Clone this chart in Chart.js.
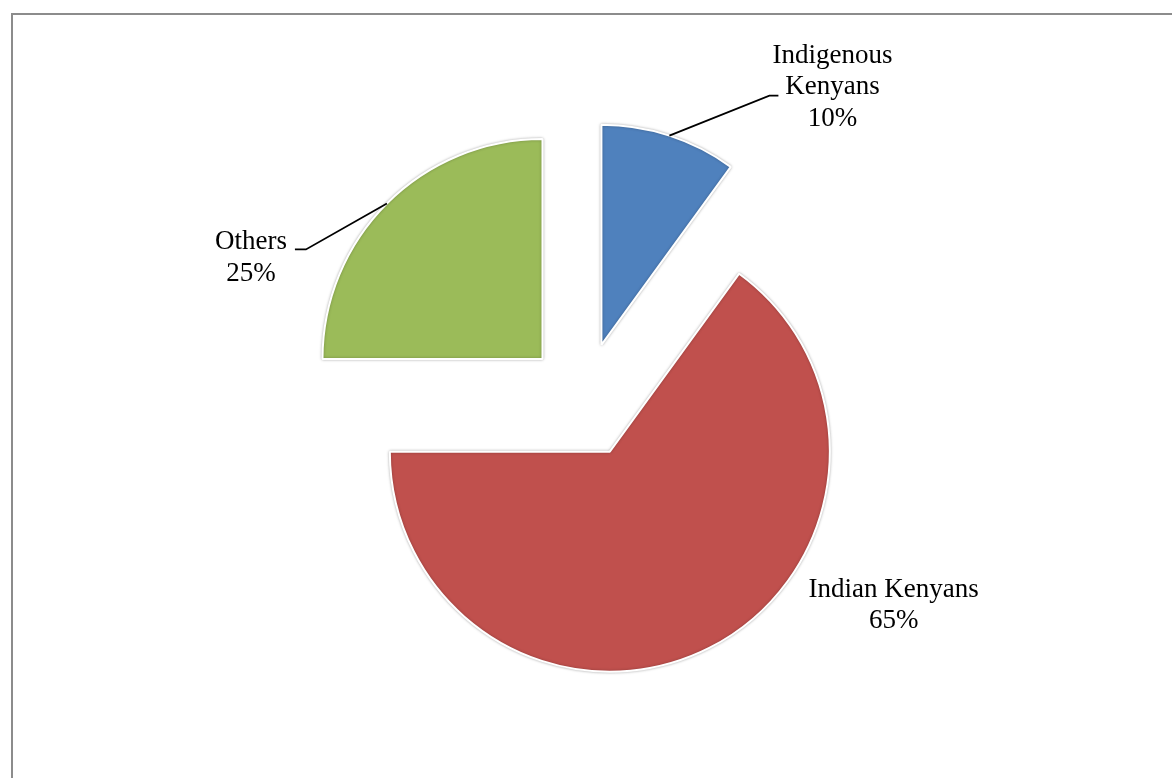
<!DOCTYPE html>
<html>
<head>
<meta charset="utf-8">
<script src="https://cdn.jsdelivr.net/npm/chart.js@4.4.0/dist/chart.umd.min.js"></script>
<style>
  html, body { margin: 0; padding: 0; background: #fff; }
  canvas { display: block; }
</style>
</head>
<body>
<canvas id="c" width="1172" height="778"></canvas>
<script>
// ---- data ----
const categories = ['Indigenous Kenyans', 'Indian Kenyans', 'Others'];
const categoryLines = [['Indigenous', 'Kenyans'], ['Indian Kenyans'], ['Others']];
const values = [10, 65, 25];
const colors = ['#4F81BD', '#C0504D', '#9BBB59'];

// ---- layout / style ----
const EXPLODE = 58;      // px displacement of every slice
const RADIUS = 220;
const FONT = '27px "Liberation Serif", "Times New Roman", serif';
const LINE_H = 31.5;
// label placement relative to each slice's outer mid-point
const labelLayout = [
  { leader: [[100, -40], [109, -40]], text: [163, -73] },
  { leader: null, text: [184, -51] },
  { leader: [[-81, 46], [-92, 46]], text: [-136, 46] }
];

const total = values.reduce((a, b) => a + b, 0);

const framePlugin = {
  id: 'frame',
  beforeDraw(chart) {
    const c = chart.ctx;
    c.save();
    c.strokeStyle = '#8c8c8c';
    c.lineWidth = 2;
    c.beginPath();
    c.moveTo(12, 800);
    c.lineTo(12, 14);
    c.lineTo(1200, 14);
    c.stroke();
    c.restore();
  }
};

// draws each library arc element shifted outward along its mid-angle (exploded pie)
const explodePlugin = {
  id: 'explode',
  beforeDatasetDraw(chart, args) {
    const c = chart.ctx;
    const meta = args.meta;
    c.save();
    c.shadowColor = 'rgba(0,0,0,0.28)';
    c.shadowBlur = 3;
    meta.data.forEach(arc => {
      const mid = (arc.startAngle + arc.endAngle) / 2;
      c.save();
      c.translate(Math.cos(mid) * EXPLODE, Math.sin(mid) * EXPLODE);
      arc.draw(c, chart.chartArea);
      c.restore();
    });
    c.restore();
    return false;
  }
};

const labelPlugin = {
  id: 'pieLabels',
  afterDatasetsDraw(chart) {
    const c = chart.ctx;
    const meta = chart.getDatasetMeta(0);
    c.save();
    meta.data.forEach((arc, i) => {
      const mid = (arc.startAngle + arc.endAngle) / 2;
      const r = arc.outerRadius + EXPLODE;
      const px = arc.x + Math.cos(mid) * r;
      const py = arc.y + Math.sin(mid) * r;
      const lay = labelLayout[i];
      if (lay.leader) {
        c.strokeStyle = '#000';
        c.lineWidth = 1.8;
        c.beginPath();
        c.moveTo(px, py);
        lay.leader.forEach(p => c.lineTo(px + p[0], py + p[1]));
        c.stroke();
      }
      const pct = Math.round(values[i] / total * 100) + '%';
      const lines = categoryLines[i].concat([pct]);
      c.fillStyle = '#000';
      c.font = FONT;
      c.textAlign = 'center';
      c.textBaseline = 'alphabetic';
      lines.forEach((t, k) => {
        c.fillText(t, px + lay.text[0], py + lay.text[1] + k * LINE_H);
      });
    });
    c.restore();
  }
};

new Chart(document.getElementById('c'), {
  type: 'pie',
  data: {
    labels: categories,
    datasets: [{
      data: values,
      backgroundColor: colors,
      borderColor: '#ffffff',
      borderWidth: 2,
      offset: 0,
      hoverOffset: 0
    }]
  },
  options: {
    responsive: false,
    animation: false,
    devicePixelRatio: 1,
    radius: RADIUS,
    layout: { padding: { left: 0, right: 5, top: 22, bottom: 0 } },
    plugins: {
      legend: { display: false },
      tooltip: { enabled: false },
      title: { display: false }
    },
    events: []
  },
  plugins: [framePlugin, explodePlugin, labelPlugin]
});
</script>
</body>
</html>
